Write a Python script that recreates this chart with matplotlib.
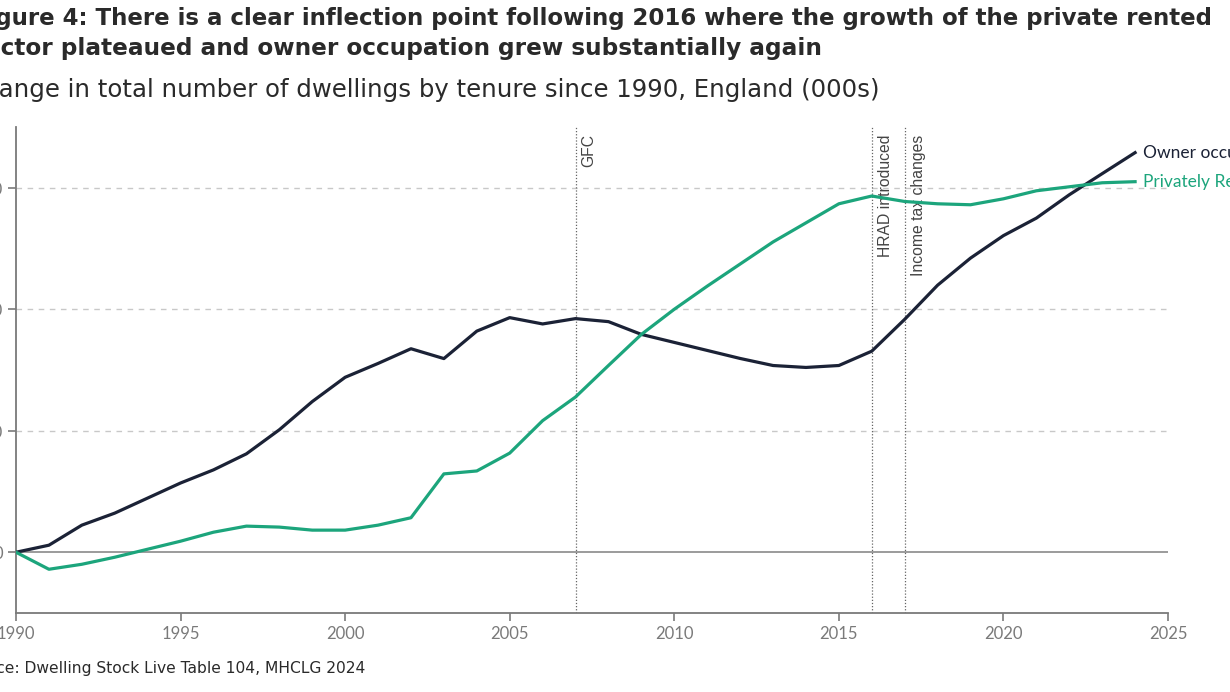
import matplotlib.pyplot as plt

years = list(range(1990, 2025))

# change since 1990, thousands of dwellings
owner_occupied = [0, 58, 223, 322, 446, 570, 678, 810, 1008, 1240,
                  1440, 1554, 1675, 1594, 1820, 1931, 1879, 1923, 1898, 1793,
                  1727, 1661, 1595, 1537, 1521, 1537, 1655, 1917, 2198, 2421,
                  2606, 2750, 2942, 3116, 3289]
privately_rented = [0, -140, -99, -41, 25, 91, 165, 215, 207, 182,
                    182, 223, 284, 645, 669, 816, 1083, 1278, 1537, 1793,
                    2000, 2190, 2372, 2554, 2711, 2868, 2932, 2887, 2868, 2860,
                    2909, 2975, 3008, 3041, 3050]

events = [(2007, "GFC"), (2016, "HRAD introduced"), (2017, "Income tax changes")]

yticks = [0, 1000, 2000, 3000]
xticks = [1990, 1995, 2000, 2005, 2010, 2015, 2020, 2025]

navy = "#1b2236"
green = "#1ca57c"
grey = "#7a7a7a"

plt.rcParams['font.family'] = ['Lato', 'DejaVu Sans']

fig = plt.figure(figsize=(12.3, 6.92), dpi=100)
ax = fig.add_axes([16 / 1230, 1 - 613 / 692, (1168 - 16) / 1230, (613 - 127) / 692])

for y in yticks[1:]:
    ax.axhline(y, color="#c8c8c8", lw=1, ls=(0, (4, 4)), zorder=1)
ax.axhline(0, color="#8a8a8a", lw=1.2, zorder=1)

for yr, lab in events:
    ax.axvline(yr, color="#666666", lw=0.9, ls=(0, (1, 1.5)), zorder=1)
    ax.text(yr + 0.18, 3440, lab, rotation=90, va="top", ha="left",
            fontsize=11.3, color="#444444", family=["Liberation Sans", "DejaVu Sans"])

ax.plot(years, owner_occupied, color=navy, lw=2.3, zorder=3, solid_joinstyle="round")
ax.plot(years, privately_rented, color=green, lw=2.3, zorder=3, solid_joinstyle="round")

ax.text(years[-1] + 0.25, owner_occupied[-1], "Owner occupied", color=navy,
        fontsize=12.5, va="center", ha="left", clip_on=False)
ax.text(years[-1] + 0.25, privately_rented[-1], "Privately Rented", color=green,
        fontsize=12.5, va="center", ha="left", clip_on=False)

ax.set_xlim(1990, 2025)
ax.set_ylim(-500, 3500)
ax.set_xticks(xticks)
ax.set_yticks(yticks)
ax.set_yticklabels(["0", "1,000", "2,000", "3,000"])
for s in ["top", "right"]:
    ax.spines[s].set_visible(False)
for s in ["left", "bottom"]:
    ax.spines[s].set_color(grey)
    ax.spines[s].set_linewidth(1.3)
ax.tick_params(colors=grey, labelcolor=grey, labelsize=12, length=6, width=1.2)

wide = ["DejaVu Sans"]
fig.text(1212 / 1230, 1 - 18 / 692,
         "Figure 4: There is a clear inflection point following 2016 where the growth of the private rented",
         ha="right", va="center", fontsize=16.5, fontweight="bold", color="#2a2a2a", family=wide)
fig.text(822 / 1230, 1 - 48 / 692,
         "sector plateaued and owner occupation grew substantially again",
         ha="right", va="center", fontsize=16.7, fontweight="bold", color="#2a2a2a", family=wide)
fig.text(880 / 1230, 1 - 90 / 692,
         "Change in total number of dwellings by tenure since 1990, England (000s)",
         ha="right", va="center", fontsize=17.6, color="#2a2a2a", family=wide)
fig.text(365 / 1230, 1 - 668 / 692,
         "Source: Dwelling Stock Live Table 104, MHCLG 2024",
         ha="right", va="center", fontsize=11.2, color="#2a2a2a", family=wide)

fig.savefig("out.png", dpi=100)
